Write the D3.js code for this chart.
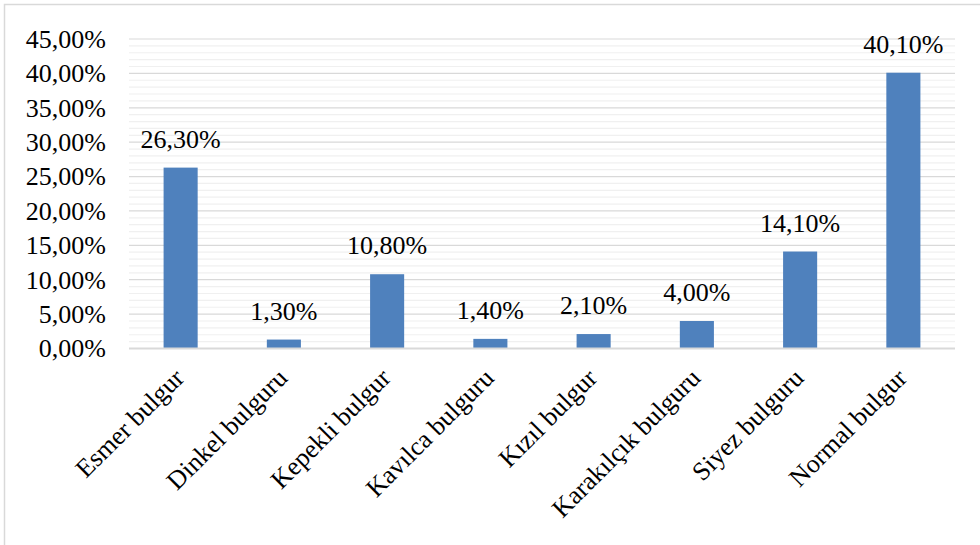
<!DOCTYPE html>
<html>
<head>
<meta charset="utf-8">
<script src="https://cdn.jsdelivr.net/npm/d3@7"></script>
<style>
  html, body { margin: 0; padding: 0; background: #fff; }
  svg { display: block; }
  text { fill: #000; }
</style>
</head>
<body>
<svg id="chart" width="980" height="545"></svg>
<script>
// Bulgur types and their shares (%)
const categories = ["Esmer bulgur", "Dinkel bulguru", "Kepekli bulgur", "Kavılca bulguru",
                    "Kızıl bulgur", "Karakılçık bulguru", "Siyez bulguru", "Normal bulgur"];
const values = [26.3, 1.3, 10.8, 1.4, 2.1, 4.0, 14.1, 40.1];
const yTicks = [0, 5, 10, 15, 20, 25, 30, 35, 40, 45];
const yMinorTicks = d3.range(0, 46, 1);

const FONT = "'Liberation Serif', 'Times New Roman', 'DejaVu Serif'";

const locale = d3.formatLocale({ decimal: ",", thousands: ".", grouping: [3], currency: ["", ""] });
const fmt = d => locale.format(".2f")(d) + "%";

const svg = d3.select("#chart");

// outer chart frame
svg.append("rect")
  .attr("x", 4.5).attr("y", 4.5)
  .attr("width", 1000).attr("height", 600)
  .attr("fill", "none").attr("stroke", "#d9d9d9").attr("stroke-width", 1.5);

const plot = { left: 129, right: 955, top: 39, bottom: 348.5 };

const x = d3.scaleBand()
  .domain(categories)
  .range([plot.left, plot.right])
  .paddingInner(0.67)
  .paddingOuter(0.335);

const y = d3.scaleLinear()
  .domain([0, 45])
  .range([plot.bottom, plot.top]);

// minor gridlines
svg.append("g")
  .selectAll("line")
  .data(yMinorTicks.filter(d => d % 5 !== 0))
  .join("line")
  .attr("x1", plot.left).attr("x2", plot.right)
  .attr("y1", d => y(d)).attr("y2", d => y(d))
  .attr("stroke", "#f0f0f0").attr("stroke-width", 1.2);

// major gridlines
svg.append("g")
  .selectAll("line")
  .data(yTicks.filter(d => d > 0))
  .join("line")
  .attr("x1", plot.left).attr("x2", plot.right)
  .attr("y1", d => y(d)).attr("y2", d => y(d))
  .attr("stroke", "#d9d9d9").attr("stroke-width", 1.2);

// y axis labels
const yAxis = d3.axisLeft(y).tickValues(yTicks).tickFormat(fmt).tickSize(0).tickPadding(23);
const gy = svg.append("g").attr("transform", `translate(${plot.left},0)`).call(yAxis);
gy.attr("font-family", FONT).attr("font-size", 26);
gy.select(".domain").remove();
gy.selectAll("text").attr("fill", "#000");

// bars
svg.append("g")
  .selectAll("rect")
  .data(values)
  .join("rect")
  .attr("x", (d, i) => x(categories[i]))
  .attr("y", d => y(d))
  .attr("width", x.bandwidth())
  .attr("height", d => y(0) - y(d))
  .attr("fill", "#4f81bd");

// value labels
svg.append("g")
  .attr("font-family", FONT).attr("font-size", 26)
  .selectAll("text")
  .data(values)
  .join("text")
  .attr("x", (d, i) => x(categories[i]) + x.bandwidth() / 2)
  .attr("y", d => y(d) - 20)
  .attr("text-anchor", "middle")
  .text(d => fmt(d));

// x axis line
svg.append("line")
  .attr("x1", plot.left).attr("x2", plot.right)
  .attr("y1", y(0)).attr("y2", y(0))
  .attr("stroke", "#d9d9d9").attr("stroke-width", 2);

// rotated category labels
svg.append("g")
  .attr("font-family", FONT).attr("font-size", 26)
  .selectAll("text")
  .data(categories)
  .join("text")
  .attr("transform", d => `translate(${x(d) + x.bandwidth() / 2 + 5},${plot.bottom + 31}) rotate(-45)`)
  .attr("text-anchor", "end")
  .text(d => d);
</script>
</body>
</html>
